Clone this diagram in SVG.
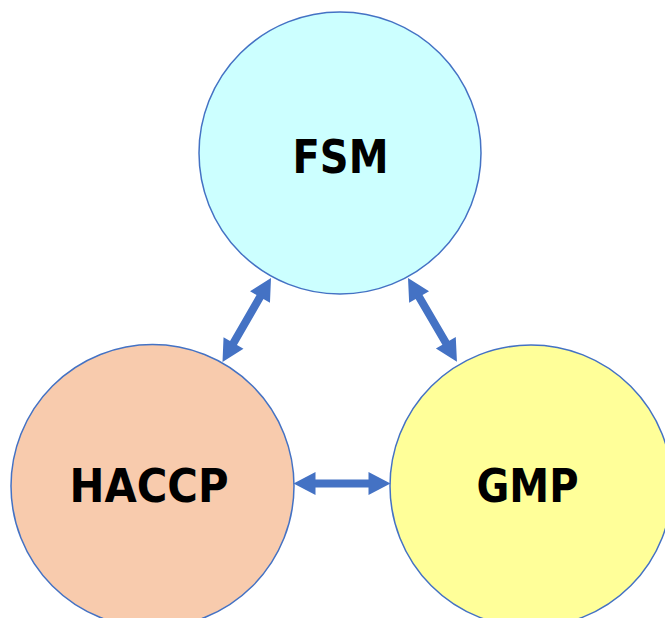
<svg xmlns="http://www.w3.org/2000/svg" xmlns:xlink="http://www.w3.org/1999/xlink" width="665" height="618" viewBox="0 0 665 618">
  <style>
    .node { stroke: #4472C4; stroke-width: 1.5; }
    .label { font-family: "DejaVu Sans", Verdana, sans-serif; font-weight: bold; font-size: 46px; fill: #000000; text-anchor: middle; }
    .arrow { fill: #4472C4; }
  </style>
  <defs>
    <polygon id="dbl" class="arrow" points="0,0 22,-11.5 22,-4 75,-4 75,-11.5 97,0 75,11.5 75,4 22,4 22,11.5"/>
  </defs>
  <rect width="665" height="618" fill="#FFFFFF"/>
  <g id="fsm">
    <circle class="node" cx="340" cy="153" r="141" fill="#CCFFFF"/>
    <text class="label" x="340.5" y="172.5" textLength="96" lengthAdjust="spacingAndGlyphs">FSM</text>
  </g>
  <g id="haccp">
    <circle class="node" cx="152.5" cy="486" r="141.5" fill="#F8CBAD"/>
    <text class="label" x="149" y="502" textLength="159" lengthAdjust="spacingAndGlyphs">HACCP</text>
  </g>
  <g id="gmp">
    <circle class="node" cx="531" cy="486" r="141" fill="#FFFF99"/>
    <text class="label" x="527.5" y="502" textLength="102" lengthAdjust="spacingAndGlyphs">GMP</text>
  </g>
  <g id="connectors">
    <use xlink:href="#dbl" transform="translate(271,278) rotate(120)"/>
    <use xlink:href="#dbl" transform="translate(408,278) rotate(59.7)"/>
    <use xlink:href="#dbl" transform="translate(293.5,483.5)"/>
  </g>
</svg>
